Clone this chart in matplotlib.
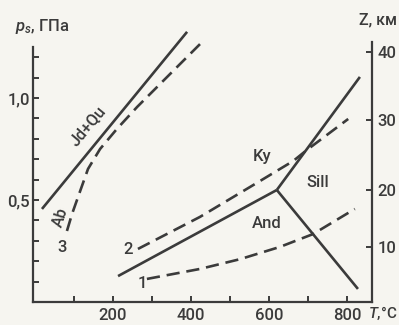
import numpy as np
import matplotlib.pyplot as plt

# phase boundaries, T in °C, p in GPa
jdqu_t = [18, 390]
jdqu_p = [0.456, 1.324]

ab_t = [82, 95, 115, 136, 167, 210, 262, 354, 431]
ab_p = [0.348, 0.431, 0.539, 0.652, 0.75, 0.848, 0.956, 1.132, 1.279]

ky_and_t = [213, 620]
ky_and_p = [0.127, 0.549]
and_sill_t = [620, 828]
and_sill_p = [0.549, 0.064]
ky_sill_t = [620, 833]
ky_sill_p = [0.549, 1.103]

# geotherms 1 and 2
geo1_t = [287, 423, 526, 628, 713, 820]
geo1_p = [0.113, 0.162, 0.21, 0.27, 0.333, 0.456]
geo2_t = [264, 423, 577, 662, 697, 803]
geo2_p = [0.26, 0.417, 0.593, 0.691, 0.745, 0.897]

# depth scale on the right
depth_km = [10, 20, 30, 40]
depth_p = [0.27, 0.549, 0.892, 1.225]

ink = "#3b3b3b"
paper = "#f6f5f0"
plt.rcParams["font.family"] = ["Roboto", "DejaVu Sans"]
plt.rcParams["font.weight"] = "medium"
plt.rcParams["mathtext.fontset"] = "custom"
plt.rcParams["mathtext.it"] = "Roboto:italic:medium"
plt.rcParams["mathtext.rm"] = "Roboto:medium"

fig = plt.figure(figsize=(3.99, 3.25), dpi=100, facecolor=paper)
ax = fig.add_axes([33 / 399, 23 / 325, 339 / 399, 272 / 325])
ax.set_facecolor(paper)
ax.set_xlim(-5, 864)
ax.set_ylim(0, 1.333)

lw = 1.9
ax.plot(jdqu_t, jdqu_p, color=ink, lw=lw, solid_capstyle="butt")
ax.plot(ab_t, ab_p, color=ink, lw=lw, dashes=(5, 2.6))
ax.plot(ky_and_t, ky_and_p, color=ink, lw=lw, solid_capstyle="butt")
ax.plot(and_sill_t, and_sill_p, color=ink, lw=lw, solid_capstyle="butt")
ax.plot(ky_sill_t, ky_sill_p, color=ink, lw=lw, solid_capstyle="butt")
ax.plot(geo1_t, geo1_p, color=ink, lw=lw, dashes=(5, 2.6))
ax.plot(geo2_t, geo2_p, color=ink, lw=lw, dashes=(5, 2.6))

for s in ["top", "right"]:
    ax.spines[s].set_visible(False)
for s in ["left", "bottom"]:
    ax.spines[s].set_color(ink)
    ax.spines[s].set_linewidth(1.6)
ax.spines["left"].set_bounds(0, 1.25)

ax.set_xticks([200, 400, 600, 800])
ax.set_xticks([100, 300, 500, 700], minor=True)
ax.set_yticks([0.5, 1.0])
ax.set_yticklabels(["0,5", "1,0"])
ax.set_yticks([0.1, 0.2, 0.3, 0.4, 0.6, 0.7, 0.8, 0.9, 1.1, 1.2], minor=True)
ax.tick_params(which="both", direction="in", length=4, width=1.4, color=ink,
               labelcolor=ink, labelsize=12)
ax.tick_params(axis="x", pad=4)
ax.tick_params(axis="y", pad=2)

ax2 = ax.twinx()
ax2.set_ylim(ax.get_ylim())
for s in ["top", "left", "bottom"]:
    ax2.spines[s].set_visible(False)
ax2.spines["right"].set_color(ink)
ax2.spines["right"].set_linewidth(1.6)
ax2.spines["right"].set_bounds(0, 1.275)
ax2.set_yticks(depth_p)
ax2.set_yticklabels([str(d) for d in depth_km])
ax2.tick_params(direction="in", length=4, width=1.4, color=ink,
                labelcolor=ink, labelsize=12, pad=4)

# axis titles
fig.text(15 / 399, 1 - 27 / 325, "$p_s$, ГПа", color=ink, fontsize=12, va="center", ha="left")
fig.text(397 / 399, 1 - 20 / 325, "Z, км", color=ink, fontsize=11.5, va="center", ha="right")
fig.text(397 / 399, 1 - 313 / 325, "$T$,°C", color=ink, fontsize=11, va="center", ha="right")

# field and curve labels: text, x px, y px, rotation, size
labels = [
    ("Jd+Qu", 88, 126, 50, 11.5),
    ("Ab", 61, 217, 72, 11.5),
    ("3", 62, 247, 0, 12),
    ("2", 128, 250, 0, 12),
    ("1", 142, 283, 0, 12),
    ("Ky", 262, 157, 0, 12),
    ("Sill", 318, 182, 0, 12),
    ("And", 267, 223, 0, 12),
]
for txt, x, y, rot, fs in labels:
    fig.text(x / 399, 1 - y / 325, txt, color=ink, fontsize=fs, rotation=rot,
             ha="center", va="center", rotation_mode="anchor")

fig.savefig("out.png", dpi=100, facecolor=paper)
